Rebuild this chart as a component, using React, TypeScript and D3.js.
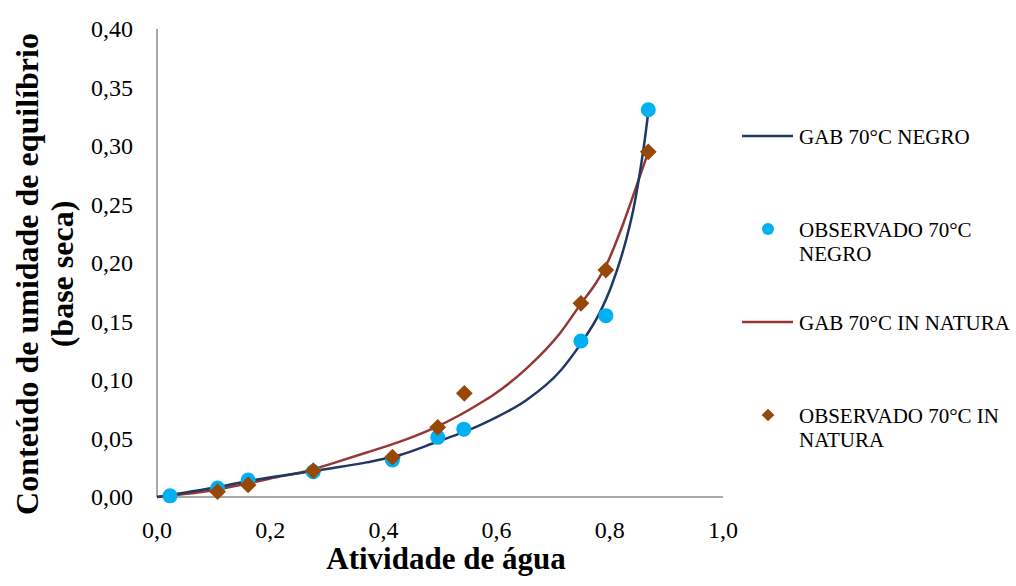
import React, { useEffect, useRef } from "react";
import * as d3 from "d3";

// Observed sorption points, black variety (70 °C)
const awObsNegro = [0.023, 0.107, 0.161, 0.276, 0.416, 0.496, 0.542, 0.749, 0.793, 0.868];
const xObsNegro = [0.001, 0.0077, 0.0145, 0.0216, 0.0316, 0.051, 0.058, 0.1333, 0.155, 0.331];

// Observed sorption points, in natura (70 °C)
const awObsNatura = [0.107, 0.161, 0.276, 0.416, 0.496, 0.543, 0.749, 0.793, 0.868];
const xObsNatura = [0.0045, 0.0103, 0.0225, 0.034, 0.0596, 0.0886, 0.1655, 0.194, 0.295];

// GAB fitted curve, black variety
const awGabNegro = [0, 0.107, 0.16, 0.2527, 0.3115, 0.3705, 0.4293, 0.488, 0.5353, 0.5707, 0.594, 0.653, 0.712, 0.7473, 0.7827, 0.8034, 0.83, 0.8417, 0.8534, 0.862, 0.868];
const xGabNegro = [0, 0.0085, 0.0135, 0.0205, 0.0248, 0.0296, 0.0359, 0.0459, 0.0544, 0.0615, 0.0668, 0.0829, 0.1075, 0.13, 0.158, 0.181, 0.222, 0.246, 0.278, 0.306, 0.329];

// GAB fitted curve, in natura
const awGabNatura = [0, 0.107, 0.16, 0.2, 0.27, 0.3115, 0.3705, 0.4293, 0.488, 0.5353, 0.5707, 0.594, 0.653, 0.712, 0.7473, 0.777, 0.7915, 0.824, 0.8445, 0.868];
const xGabNatura = [0, 0.0065, 0.0115, 0.0158, 0.0228, 0.029, 0.038, 0.0473, 0.0587, 0.0701, 0.0801, 0.0872, 0.11, 0.14, 0.164, 0.184, 0.196, 0.234, 0.262, 0.295];

const xTicks = [0, 0.2, 0.4, 0.6, 0.8, 1.0];
const yTicks = [0, 0.05, 0.1, 0.15, 0.2, 0.25, 0.3, 0.35, 0.4];

const legendItems = [
  { kind: "line", color: "#1F3864", lines: ["GAB 70°C NEGRO"] },
  { kind: "circle", color: "#00B0F0", lines: ["OBSERVADO 70°C", "NEGRO"] },
  { kind: "line", color: "#953735", lines: ["GAB 70°C IN NATURA"] },
  { kind: "diamond", color: "#974806", lines: ["OBSERVADO 70°C IN", "NATURA"] },
];

const W = 1016;
const H = 586;
const FONT = "'Liberation Serif', 'Times New Roman', serif";
const fmt = (v: number, d: number) => v.toFixed(d).replace(".", ",");

export default function App() {
  const ref = useRef<SVGSVGElement | null>(null);

  useEffect(() => {
    const svg = d3.select(ref.current);
    svg.selectAll("*").remove();

    const x = d3.scaleLinear().domain([0, 1]).range([157, 723]);
    const y = d3.scaleLinear().domain([0, 0.4]).range([497, 29]);

    // axes
    svg.append("line").attr("x1", x(0)).attr("x2", x(0)).attr("y1", y(0.4)).attr("y2", y(0))
      .attr("stroke", "#8c8c8c").attr("stroke-width", 1.5);
    svg.append("line").attr("x1", x(0)).attr("x2", x(1)).attr("y1", y(0)).attr("y2", y(0))
      .attr("stroke", "#8c8c8c").attr("stroke-width", 1.5);

    svg.append("g").selectAll("text").data(yTicks).join("text")
      .attr("x", 133).attr("y", (d) => y(d)).attr("dy", "0.34em")
      .attr("text-anchor", "end").attr("font-family", FONT).attr("font-size", 24)
      .attr("fill", "#000").text((d) => fmt(d, 2));

    svg.append("g").selectAll("text").data(xTicks).join("text")
      .attr("x", (d) => x(d)).attr("y", 538)
      .attr("text-anchor", "middle").attr("font-family", FONT).attr("font-size", 24)
      .attr("fill", "#000").text((d) => fmt(d, 1));

    // axis titles
    svg.append("text").attr("x", 446).attr("y", 569).attr("text-anchor", "middle")
      .attr("font-family", FONT).attr("font-size", 31).attr("font-weight", "bold")
      .text("Atividade de água");

    const yt = svg.append("text").attr("transform", "translate(0,274) rotate(-90)")
      .attr("text-anchor", "middle").attr("font-family", FONT).attr("font-size", 32)
      .attr("font-weight", "bold");
    yt.append("tspan").attr("x", 0).attr("y", 38).text("Conteúdo de umidade de equilíbrio");
    yt.append("tspan").attr("x", 0).attr("y", 73).text("(base seca)");

    // fitted curves
    const line = d3.line<[number, number]>().x((d) => x(d[0])).y((d) => y(d[1])).curve(d3.curveMonotoneX);
    const negro = awGabNegro.map((a, i) => [a, xGabNegro[i]] as [number, number]);
    const natura = awGabNatura.map((a, i) => [a, xGabNatura[i]] as [number, number]);

    svg.append("path").attr("d", line(natura)).attr("fill", "none")
      .attr("stroke", "#953735").attr("stroke-width", 2.5);
    svg.append("path").attr("d", line(negro)).attr("fill", "none")
      .attr("stroke", "#1F3864").attr("stroke-width", 2.5);

    // observed points
    svg.append("g").selectAll("circle").data(awObsNegro).join("circle")
      .attr("cx", (d) => x(d)).attr("cy", (_d, i) => y(xObsNegro[i])).attr("r", 7.5)
      .attr("fill", "#00B0F0");

    const diamond = d3.symbol().type(d3.symbolSquare).size(140)();
    svg.append("g").selectAll("path").data(awObsNatura).join("path")
      .attr("d", diamond)
      .attr("transform", (d, i) => `translate(${x(d)},${y(xObsNatura[i])}) rotate(45)`)
      .attr("fill", "#974806");

    // legend
    const legendY = [136, 229, 322, 415];
    legendItems.forEach((item, k) => {
      const cy = legendY[k];
      const g = svg.append("g");
      if (item.kind === "line") {
        g.append("line").attr("x1", 742).attr("x2", 793).attr("y1", cy).attr("y2", cy)
          .attr("stroke", item.color).attr("stroke-width", 2.5);
      } else if (item.kind === "circle") {
        g.append("circle").attr("cx", 768).attr("cy", cy).attr("r", 6).attr("fill", item.color);
      } else {
        g.append("path").attr("d", d3.symbol().type(d3.symbolSquare).size(80)())
          .attr("transform", `translate(768,${cy}) rotate(45)`).attr("fill", item.color);
      }
      item.lines.forEach((t, j) => {
        g.append("text").attr("x", 799).attr("y", cy + 7.5 + j * 24)
          .attr("font-family", FONT).attr("font-size", 21).attr("fill", "#000").text(t);
      });
    });
  }, []);

  return (
    <svg ref={ref} width={W} height={H}
      style={{ position: "absolute", left: 0, top: 0, background: "#fff" }} />
  );
}
